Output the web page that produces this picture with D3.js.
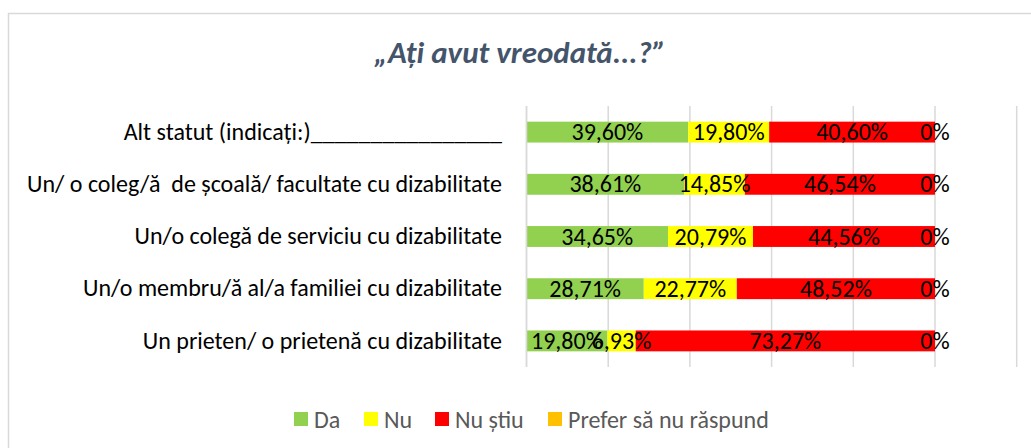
<!DOCTYPE html>
<html><head><meta charset="utf-8">
<script src="https://cdn.jsdelivr.net/npm/d3@7"></script>
<style>
html,body{margin:0;padding:0;background:#fff;}
svg{display:block;}
</style></head>
<body>
<svg id="chart" width="1031" height="448"></svg>
<script>
const title = "„Ați avut vreodată...?”";
const categories = [
  "Alt statut (indicați:)________________",
  "Un/ o coleg/ă  de școală/ facultate cu dizabilitate",
  "Un/o colegă de serviciu cu dizabilitate",
  "Un/o membru/ă al/a familiei cu dizabilitate",
  "Un prieten/ o prietenă cu dizabilitate"
];
const seriesNames = ["Da", "Nu", "Nu știu", "Prefer să nu răspund"];
const seriesColors = ["#92D050", "#FFFF00", "#FF0000", "#FFC000"];
const da      = [39.60, 38.61, 34.65, 28.71, 19.80];
const nu      = [19.80, 14.85, 20.79, 22.77, 6.93];
const nuStiu  = [40.60, 46.54, 44.56, 48.52, 73.27];
const prefer  = [0, 0, 0, 0, 0];
const xTicks = [0, 20, 40, 60, 80, 100, 120];

const FONT = "Carlito, Calibri, Lato, 'Liberation Sans', sans-serif";
const svg = d3.select("#chart");

// outer chart border
svg.append("rect").attr("x", 8.5).attr("y", 13.5).attr("width", 1040).attr("height", 460)
  .attr("fill", "#fff").attr("stroke", "#d9d9d9").attr("stroke-width", 1.5);

svg.append("text").attr("x", 520).attr("y", 63).attr("text-anchor", "middle")
  .style("font-family", FONT).style("font-size", "31px").style("font-weight", "bold")
  .style("font-style", "italic").attr("fill", "#44546A").text(title);

const x = d3.scaleLinear().domain([0, 120]).range([526.5, 1016.7]);
const y = d3.scaleBand().domain(categories).range([106, 367]).paddingInner(0.6).paddingOuter(0.3);

// gridlines
svg.append("g").selectAll("line").data(xTicks).join("line")
  .attr("x1", d => x(d)).attr("x2", d => x(d)).attr("y1", 106).attr("y2", 367)
  .attr("stroke", "#d9d9d9").attr("stroke-width", 1.5);

const series = [da, nu, nuStiu, prefer];
const rows = categories.map((c, i) => {
  const o = {cat: c};
  seriesNames.forEach((s, j) => o[s] = series[j][i]);
  return o;
});
const stacked = d3.stack().keys(seriesNames)(rows);

const fmt = v => (v === 0 ? "0" : v.toFixed(2).replace(".", ",")) + "%";

stacked.forEach((layer, j) => {
  const g = svg.append("g");
  g.selectAll("rect").data(layer).join("rect")
    .attr("x", d => x(d[0])).attr("width", d => x(d[1]) - x(d[0]))
    .attr("y", d => y(d.data.cat)).attr("height", y.bandwidth())
    .attr("fill", seriesColors[j]);
});
stacked.forEach((layer, j) => {
  svg.append("g").selectAll("text").data(layer).join("text")
    .attr("x", d => (x(d[0]) + x(d[1])) / 2)
    .attr("y", d => y(d.data.cat) + y.bandwidth() / 2)
    .attr("text-anchor", "middle").attr("dy", "0.34em")
    .style("font-family", FONT).style("font-size", "24px").attr("fill", "#000")
    .text(d => fmt(d.data[seriesNames[j]]));
});

// y axis line
svg.append("line").attr("x1", x(0)).attr("x2", x(0)).attr("y1", 106).attr("y2", 367)
  .attr("stroke", "#d9d9d9").attr("stroke-width", 1.5);

// category labels
const yAxis = d3.axisLeft(y).tickSize(0).tickPadding(0);
const ga = svg.append("g").attr("transform", "translate(502,0)").call(yAxis);
ga.select(".domain").remove();
ga.selectAll("text").style("font-family", FONT).style("font-size", "24px")
  .attr("fill", "#000").style("white-space", "pre").attr("dy", "0.32em");

// legend
const legendX = [294, 364, 435, 548];
const lg = svg.append("g");
seriesNames.forEach((s, j) => {
  lg.append("rect").attr("x", legendX[j]).attr("y", 412).attr("width", 14).attr("height", 14)
    .attr("fill", seriesColors[j]);
  lg.append("text").attr("x", legendX[j] + 20).attr("y", 419).attr("dy", "0.36em")
    .style("font-family", FONT).style("font-size", "24px").attr("fill", "#595959").text(s);
});
</script>
</body></html>
